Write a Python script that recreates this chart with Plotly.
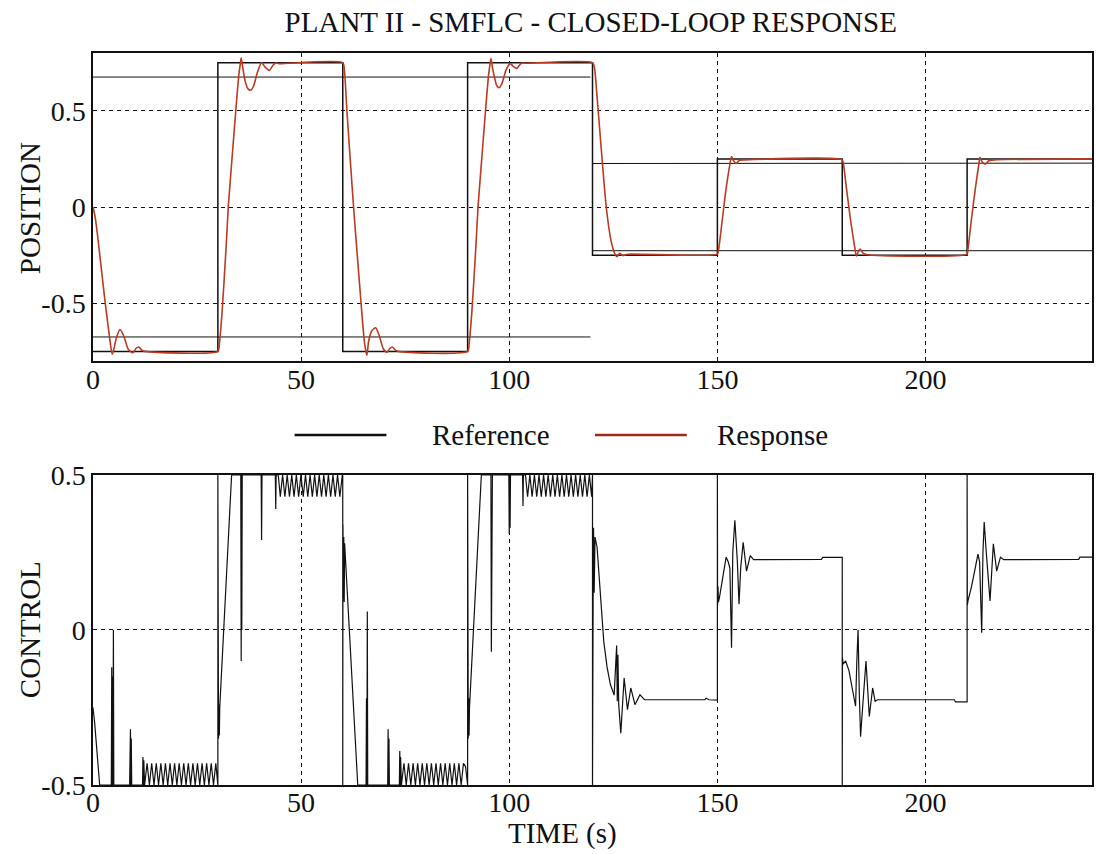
import plotly.graph_objects as go

# ---------------- data ----------------
ref_t = [0, 30, 30, 60, 60, 90, 90, 120, 120, 150, 150, 180, 180, 210, 210, 240]
ref_y = [-0.75, -0.75, 0.75, 0.75, -0.75, -0.75, 0.75, 0.75,
         -0.25, -0.25, 0.25, 0.25, -0.25, -0.25, 0.25, 0.25]

band1_t = [0, 119.5]
band1_hi = [0.675, 0.675]
band1_lo = [-0.675, -0.675]
band2_t = [120, 240]
band2_hi = [0.226, 0.228]
band2_lo = [-0.227, -0.227]

resp_t = [0, 0.5, 1, 2, 3, 4, 4.6, 5.0, 5.6, 6.5, 7.4, 8.5, 9.6, 10.3, 11.0, 11.8, 12.5, 30.0,
          30.4, 31.0, 32.0, 32.5, 33.5, 34.3, 35.0, 35.3, 35.6, 36.0, 36.6, 37.2, 37.9, 38.6, 39.5,
          40.5, 41.4, 42.4, 43.2, 43.9, 44.7, 60.0,
          60.4, 61.0, 62.6, 64.4, 65.2, 65.8, 66.2, 66.9, 67.9, 68.8, 69.7, 70.6, 71.3, 71.9,
          72.6, 73.3, 90.0,
          90.4, 91.0, 92.0, 92.5, 93.5, 94.3, 95.0, 95.3, 95.6, 96.0, 96.6, 97.0, 97.6, 98.3, 99.2,
          100.2, 101.0, 101.8, 102.4, 103.0, 104.0, 120.0,
          120.5, 121.0, 122.0, 123.3, 124.5, 125.4, 125.9, 126.5, 127.3, 128.5, 150.0,
          150.3, 151.0, 152.0, 153.0, 153.4, 153.9, 154.5, 155.3, 156.5, 180.0,
          180.3, 181.0, 182.0, 183.0, 183.4, 183.8, 184.3, 185.0, 186.0, 210.0,
          210.2, 211.0, 212.0, 212.8, 213.1, 213.6, 214.3, 215.2, 216.5, 240.0]
resp_y = [0, -0.05, -0.13, -0.32, -0.51, -0.68, -0.765, -0.74, -0.68, -0.636, -0.67, -0.74, -0.757,
          -0.735, -0.727, -0.745, -0.75, -0.75,
          -0.7, -0.55, -0.2, 0.0, 0.28, 0.5, 0.68, 0.73, 0.775, 0.72, 0.65, 0.615, 0.607, 0.63, 0.7,
          0.75, 0.725, 0.71, 0.735, 0.748, 0.745, 0.75,
          0.71, 0.5, 0.0, -0.5, -0.7, -0.77, -0.7, -0.645, -0.627, -0.67, -0.735, -0.755, -0.735,
          -0.727, -0.742, -0.75, -0.75,
          -0.7, -0.55, -0.2, 0.0, 0.28, 0.5, 0.68, 0.73, 0.772, 0.72, 0.66, 0.63, 0.62, 0.645, 0.71,
          0.745, 0.73, 0.72, 0.735, 0.748, 0.747, 0.75,
          0.72, 0.6, 0.33, 0.0, -0.18, -0.245, -0.258, -0.24, -0.252, -0.245, -0.245,
          -0.22, -0.1, 0.08, 0.22, 0.262, 0.24, 0.226, 0.243, 0.245, 0.245,
          0.22, 0.1, -0.07, -0.21, -0.255, -0.235, -0.218, -0.24, -0.248, -0.245,
          -0.22, -0.07, 0.1, 0.22, 0.258, 0.235, 0.222, 0.24, 0.245, 0.25]

# control signal: transients typed as vertices, limit-cycle "teeth" listed explicitly
ctrl_t_a = [0, 0.4, 1.6, 4.4, 4.5, 4.6, 4.7, 4.8, 4.9, 5.0, 8.8, 9.0, 9.1, 9.2, 9.3,
            11.9, 12.0, 12.1, 12.2, 12.4]
ctrl_y_a = [-0.25, -0.3, -0.5, -0.5, -0.12, -0.5, -0.15, -0.5, 0.0, -0.5, -0.5, -0.32, -0.5, -0.35, -0.5,
            -0.5, -0.41, -0.5, -0.42, -0.5]
teeth_lo1_t = [13.0, 13.55, 14.1, 14.65, 15.2, 15.75, 16.3, 16.85, 17.4, 17.95, 18.5, 19.05, 19.6,
               20.15, 20.7, 21.25, 21.8, 22.35, 22.9, 23.45, 24.0, 24.55, 25.1, 25.65, 26.2, 26.75,
               27.3, 27.85, 28.4, 28.95, 29.5, 29.9]
teeth_lo1_y = [-0.43, -0.5, -0.43, -0.5, -0.43, -0.5, -0.43, -0.5, -0.43, -0.5, -0.43, -0.5, -0.43,
               -0.5, -0.43, -0.5, -0.43, -0.5, -0.43, -0.5, -0.43, -0.5, -0.43, -0.5, -0.43, -0.5,
               -0.43, -0.5, -0.43, -0.5, -0.43, -0.5]
ctrl_t_b = [30.0, 30.0, 30.05, 30.15, 30.25, 30.35, 30.45, 33.3, 35.5, 35.6, 35.7, 35.75, 35.85,
            40.4, 40.5, 40.6, 43.8, 43.9, 44.0, 44.5]
ctrl_y_b = [-0.5, 0.5, -0.25, -0.35, -0.24, -0.34, -0.25, 0.5, 0.5, -0.1, 0.5, 0.0, 0.5,
            0.5, 0.29, 0.5, 0.5, 0.39, 0.5, 0.5]
teeth_hi1_t = [45.0, 45.55, 46.1, 46.65, 47.2, 47.75, 48.3, 48.85, 49.4, 49.95, 50.5, 51.05, 51.6,
               52.15, 52.7, 53.25, 53.8, 54.35, 54.9, 55.45, 56.0, 56.55, 57.1, 57.65, 58.2, 58.75,
               59.3, 59.9]
teeth_hi1_y = [0.43, 0.5, 0.43, 0.5, 0.43, 0.5, 0.43, 0.5, 0.43, 0.5, 0.43, 0.5, 0.43,
               0.5, 0.43, 0.5, 0.43, 0.5, 0.43, 0.5, 0.43, 0.5, 0.43, 0.5, 0.43, 0.5, 0.43, 0.5]
ctrl_t_c = [60.0, 60.0, 60.05, 60.15, 60.25, 60.35, 60.45, 63.6, 65.6, 65.7, 65.8, 65.9, 66.0,
            70.8, 70.9, 71.0, 71.1, 71.2, 73.6, 73.7, 73.8, 73.9, 74.1]
ctrl_y_c = [0.5, -0.5, 0.34, 0.1, 0.3, 0.09, 0.28, -0.5, -0.5, -0.22, -0.5, 0.06, -0.5,
            -0.5, -0.32, -0.5, -0.35, -0.5, -0.5, -0.39, -0.5, -0.41, -0.5]
teeth_lo2_t = [74.7, 75.25, 75.8, 76.35, 76.9, 77.45, 78.0, 78.55, 79.1, 79.65, 80.2, 80.75, 81.3,
               81.85, 82.4, 82.95, 83.5, 84.05, 84.6, 85.15, 85.7, 86.25, 86.8, 87.35, 87.9, 88.45,
               89.0, 89.5, 89.9]
teeth_lo2_y = [-0.43, -0.5, -0.43, -0.5, -0.43, -0.5, -0.43, -0.5, -0.43, -0.5, -0.43, -0.5, -0.43,
               -0.5, -0.43, -0.5, -0.43, -0.5, -0.43, -0.5, -0.43, -0.5, -0.43, -0.5, -0.43, -0.5,
               -0.43, -0.44, -0.5]
ctrl_t_d = [90.0, 90.0, 90.05, 90.15, 90.25, 90.35, 90.45, 93.3, 95.6, 95.7, 95.8, 95.85, 95.95,
            99.9, 100.0, 100.1, 100.2, 100.3, 103.2, 103.3, 103.4, 103.9]
ctrl_y_d = [-0.5, 0.5, -0.24, -0.35, -0.22, -0.34, -0.25, 0.5, 0.5, -0.07, 0.5, 0.05, 0.5,
            0.5, 0.31, 0.5, 0.33, 0.5, 0.5, 0.4, 0.5, 0.5]
teeth_hi2_t = [104.4, 104.95, 105.5, 106.05, 106.6, 107.15, 107.7, 108.25, 108.8, 109.35, 109.9,
               110.45, 111.0, 111.55, 112.1, 112.65, 113.2, 113.75, 114.3, 114.85, 115.4, 115.95,
               116.5, 117.05, 117.6, 118.15, 118.7, 119.25, 119.8]
teeth_hi2_y = [0.43, 0.5, 0.43, 0.5, 0.43, 0.5, 0.43, 0.5, 0.43, 0.5, 0.43,
               0.5, 0.43, 0.5, 0.43, 0.5, 0.43, 0.5, 0.43, 0.5, 0.43, 0.5,
               0.43, 0.5, 0.43, 0.5, 0.43, 0.5, 0.43]
ctrl_t_e = [120.0, 120.0, 120.05, 120.15, 120.25, 120.4, 120.6, 121.1, 122.3, 122.7, 123.5, 124.3,
            125.2, 125.6, 125.8, 125.95, 126.1, 126.3, 126.8, 127.6, 128.4, 129.2, 130.2, 131.4,
            132.5, 147.0, 147.3, 148.0, 150.0,
            150.0, 150.05, 150.15, 150.25, 150.5, 151.3, 152.1, 152.6, 153.0, 153.4, 153.7, 154.2,
            154.8, 155.2, 155.6, 156.2, 157.0, 157.9, 158.7, 175.0, 175.3, 180.0,
            180.0, 180.05, 180.2, 180.8, 181.6, 182.4, 183.2, 183.5, 183.8, 184.1, 184.4, 185.0,
            185.7, 186.5, 187.3, 187.9, 188.5, 206.9, 207.2, 210.0,
            210.0, 210.05, 210.2, 211.0, 211.8, 212.6, 213.0, 213.5, 213.8, 214.1, 214.6, 215.5,
            216.3, 217.1, 218.0, 218.8, 236.8, 237.1, 240.0]
ctrl_y_e = [0.5, -0.5, 0.35, 0.1, 0.33, 0.12, 0.3, 0.267, 0.04, -0.036, -0.12, -0.176,
            -0.21, -0.1, -0.05, -0.23, -0.08, -0.24, -0.333, -0.155, -0.257, -0.187, -0.241, -0.209,
            -0.225, -0.225, -0.22, -0.225, -0.226,
            0.5, 0.08, 0.14, 0.09, 0.105, 0.17, 0.235, 0.22, 0.2, -0.057, 0.25, 0.354,
            0.22, 0.083, 0.2, 0.283, 0.19, 0.24, 0.227, 0.228, 0.234, 0.234,
            -0.5, -0.09, -0.11, -0.1, -0.13, -0.187, -0.246, -0.1, 0.0, -0.21, -0.344, -0.23,
            -0.1, -0.279, -0.187, -0.23, -0.225, -0.225, -0.232, -0.232,
            0.5, 0.08, 0.094, 0.137, 0.19, 0.245, 0.22, -0.009, 0.25, 0.348, 0.25, 0.094,
            0.278, 0.19, 0.235, 0.227, 0.228, 0.235, 0.235]

ctrl_t = ctrl_t_a + teeth_lo1_t + ctrl_t_b + teeth_hi1_t + ctrl_t_c + teeth_lo2_t + ctrl_t_d + teeth_hi2_t + ctrl_t_e
ctrl_y = ctrl_y_a + teeth_lo1_y + ctrl_y_b + teeth_hi1_y + ctrl_y_c + teeth_lo2_y + ctrl_y_d + teeth_hi2_y + ctrl_y_e

x_ticks = [0, 50, 100, 150, 200]
x_tick_text = ["0", "50", "100", "150", "200"]
y_ticks = [-0.5, 0, 0.5]
y_tick_text = ["-0.5", "0", "0.5"]

# ---------------- figure ----------------
FONT = "Liberation Serif, Times New Roman, serif"
BLACK = "#111111"
RED = "#bb3a20"
TICK_SIZE = 28
TEXT_SIZE = 29

fig = go.Figure()
for xs, ys in [(band1_t, band1_hi), (band1_t, band1_lo), (band2_t, band2_hi), (band2_t, band2_lo)]:
    fig.add_trace(go.Scatter(x=xs, y=ys, mode="lines", line=dict(color=BLACK, width=1),
                             xaxis="x", yaxis="y", showlegend=False, hoverinfo="skip"))
fig.add_trace(go.Scatter(x=ref_t, y=ref_y, mode="lines", name="Reference",
                         line=dict(color=BLACK, width=1.5), xaxis="x", yaxis="y", showlegend=False))
fig.add_trace(go.Scatter(x=resp_t, y=resp_y, mode="lines", name="Response",
                         line=dict(color=RED, width=1.6, shape="spline", smoothing=0.6),
                         xaxis="x", yaxis="y", showlegend=False))
fig.add_trace(go.Scatter(x=ctrl_t, y=ctrl_y, mode="lines", name="Control",
                         line=dict(color=BLACK, width=1.2), xaxis="x2", yaxis="y2", showlegend=False))

axis_common = dict(
    showline=True, mirror=True, linecolor=BLACK, linewidth=1.5,
    showgrid=True, gridcolor=BLACK, gridwidth=1, griddash="4px,4px",
    zeroline=False, ticks="", tickfont=dict(family=FONT, size=TICK_SIZE, color=BLACK),
)
title_font = dict(family=FONT, size=TEXT_SIZE, color=BLACK)

fig.update_layout(
    width=1096, height=854,
    paper_bgcolor="white", plot_bgcolor="white",
    margin=dict(l=93, r=2, t=53, b=69),
    font=dict(family=FONT, color=BLACK),
    title=dict(text="PLANT II - SMFLC - CLOSED-LOOP RESPONSE", x=0.539, xanchor="center",
               y=0.974, yanchor="middle", font=title_font),
    xaxis=dict(domain=[0, 1], range=[0, 240], tickvals=x_ticks, ticktext=x_tick_text,
               anchor="y", ticklabelstandoff=-7, **axis_common),
    yaxis=dict(domain=[0.5792, 1], range=[-0.8, 0.8], tickvals=y_ticks, ticktext=y_tick_text,
               anchor="x", **axis_common),
    xaxis2=dict(domain=[0, 1], range=[0, 240], tickvals=x_ticks, ticktext=x_tick_text, anchor="y2",
                ticklabelstandoff=-8, **axis_common),
    yaxis2=dict(domain=[0, 0.4235], range=[-0.5, 0.5], tickvals=y_ticks, ticktext=y_tick_text,
                anchor="x2", **axis_common),
    showlegend=False,
)

def px_x(p):
    return (p - 93) / 1001.0

def px_y(p):
    return 1 - (p - 53) / 732.0

# axis titles
fig.add_annotation(text="POSITION", xref="paper", yref="paper", x=px_x(30), y=px_y(208),
                   xanchor="center", yanchor="middle", textangle=-90, showarrow=False, font=title_font)
fig.add_annotation(text="CONTROL", xref="paper", yref="paper", x=px_x(30), y=px_y(630),
                   xanchor="center", yanchor="middle", textangle=-90, showarrow=False, font=title_font)
fig.add_annotation(text="TIME (s)", xref="paper", yref="paper", x=px_x(563), y=px_y(833),
                   xanchor="center", yanchor="middle", showarrow=False, font=title_font)

# legend drawn between the panels (long sample lines as in the original)
fig.add_shape(type="line", xref="paper", yref="paper", x0=px_x(295), x1=px_x(387),
              y0=px_y(435), y1=px_y(435), line=dict(color=BLACK, width=2.5))
fig.add_shape(type="line", xref="paper", yref="paper", x0=px_x(596), x1=px_x(688),
              y0=px_y(435), y1=px_y(435), line=dict(color="#a02818", width=2.5))
fig.add_annotation(text="Reference", xref="paper", yref="paper", x=px_x(431), y=px_y(435),
                   xanchor="left", yanchor="middle", showarrow=False, font=title_font)
fig.add_annotation(text="Response", xref="paper", yref="paper", x=px_x(716), y=px_y(435),
                   xanchor="left", yanchor="middle", showarrow=False, font=title_font)

fig.write_html("out.html")
